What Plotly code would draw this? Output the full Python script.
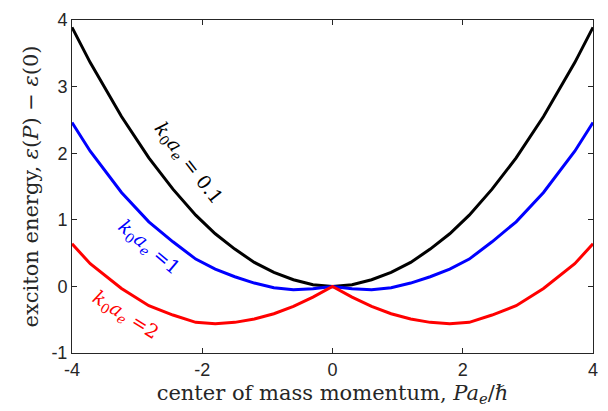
import plotly.graph_objects as go

# sampled momentum (positive half; mirrored for negative side)
p_half = [0, 0.3, 0.6, 0.9, 1.2, 1.5, 1.8, 2.1, 2.45, 2.82, 3.24, 3.72, 4.0]
black_half = [0, 0.025, 0.10, 0.21, 0.36, 0.56, 0.79, 1.07, 1.46, 1.93, 2.55, 3.36, 3.89]
blue_half = [0, -0.035, -0.05, -0.02, 0.05, 0.145, 0.26, 0.41, 0.67, 0.97, 1.41, 2.03, 2.46]
red_half = [0, -0.16, -0.30, -0.41, -0.49, -0.54, -0.56, -0.54, -0.43, -0.29, -0.03, 0.34, 0.64]

def mirror(xs, ys):
    x = [-v for v in reversed(xs[1:])] + list(xs)
    y = list(reversed(ys[1:])) + list(ys)
    return x, y

series = [
    ("k0ae=0.1", black_half, "#000000"),
    ("k0ae=1", blue_half, "#0000FF"),
    ("k0ae=2", red_half, "#FF0000"),
]

labels = [
    ("<i>k</i><sub>0</sub><i>a</i><sub><i>e</i></sub> = 0.1", -2.22, 1.84, 52, "#000000"),
    ("<i>k</i><sub>0</sub><i>a</i><sub><i>e</i></sub> =1", -2.83, 0.58, 40, "#0000FF"),
    ("<i>k</i><sub>0</sub><i>a</i><sub><i>e</i></sub> =2", -3.18, -0.43, 32, "#FF0000"),
]

fig = go.Figure()
for name, vals, col in series:
    x, y = mirror(p_half, vals)
    fig.add_trace(go.Scatter(x=x, y=y, mode="lines", name=name,
                             line=dict(color=col, width=3), showlegend=False))

for text, x, y, ang, col in labels:
    fig.add_annotation(x=x, y=y, text=text, showarrow=False, textangle=ang,
                       font=dict(family="DejaVu Serif", size=19, color=col))

axis_common = dict(showgrid=False, zeroline=False, showline=True, linecolor="#262626",
                   linewidth=1, mirror="ticks", ticks="inside", ticklen=5,
                   tickcolor="#262626",
                   tickfont=dict(family="Liberation Sans", size=18, color="#262626"))

fig.update_xaxes(range=[-4, 4], tickvals=[-4, -2, 0, 2, 4], ticktext=["-4", "-2", "0", "2", "4"],
                 title=dict(text="center of mass momentum, <i>Pa</i><sub><i>e</i></sub>/<i>ℏ</i>",
                            font=dict(family="DejaVu Serif", size=21, color="#262626"),
                            standoff=6),
                 **axis_common)
fig.update_yaxes(range=[-1, 4], tickvals=[-1, 0, 1, 2, 3, 4], ticktext=["-1", "0", "1", "2", "3", "4"],
                 title=dict(text="exciton energy, <i>ε</i>(<i>P</i>) − <i>ε</i>(0)",
                            font=dict(family="DejaVu Serif", size=21, color="#262626"),
                            standoff=7),
                 **axis_common)

fig.update_layout(width=608, height=411, margin=dict(l=72, r=10, t=18, b=58),
                  plot_bgcolor="white", paper_bgcolor="white")

fig.write_html("out.html", config={"displayModeBar": False},
               post_script="document.body.style.margin='0';")
